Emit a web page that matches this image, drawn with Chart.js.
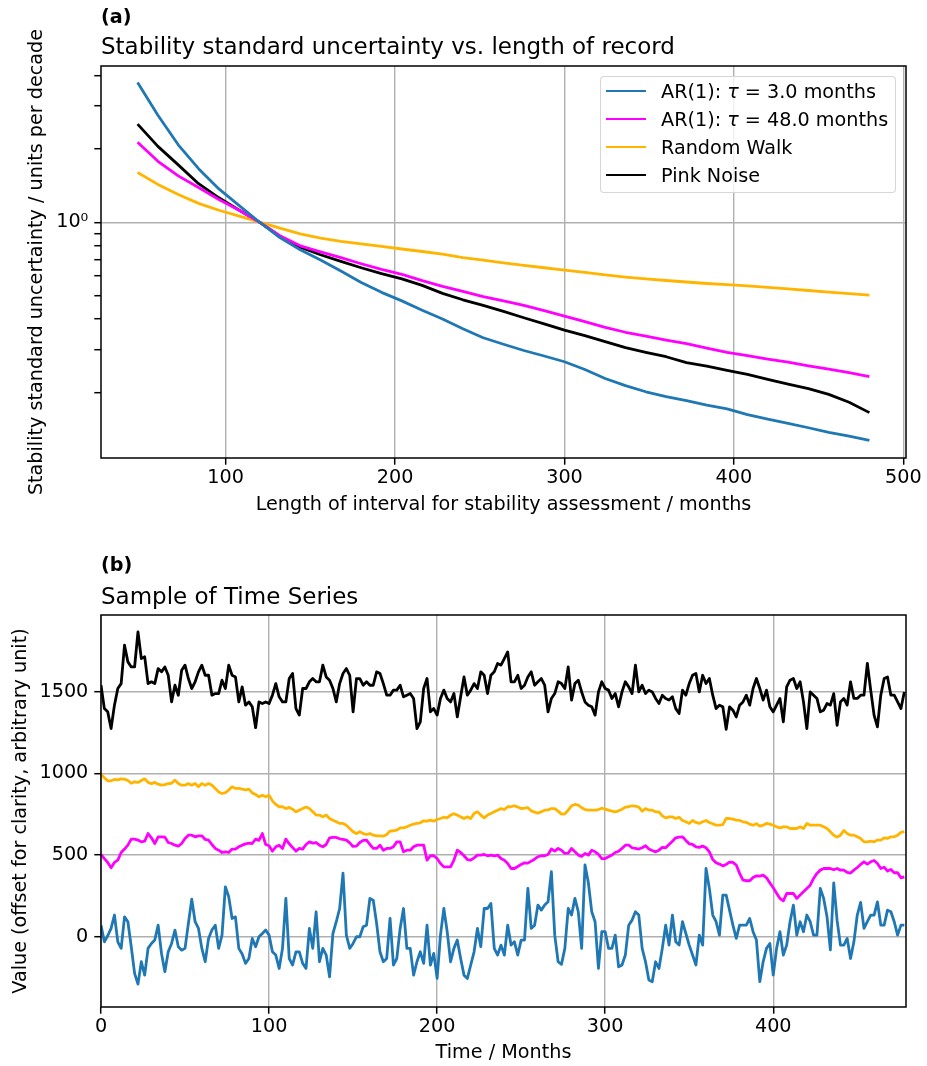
<!DOCTYPE html>
<html>
<head>
<meta charset="utf-8">
<script src="https://cdn.jsdelivr.net/npm/chart.js@4.4.1/dist/chart.umd.min.js"></script>
<style>
  body { margin: 0; background: #fff; }
  #wrap { position: relative; width: 927px; height: 1066px; font-family: "DejaVu Sans", sans-serif; color: #000; overflow: hidden; }
  canvas { position: absolute; left: 0; }
  .t { position: absolute; white-space: nowrap; color: #000; }
</style>
</head>
<body>
<div id="wrap">
  <canvas id="ca" width="927" height="525" style="top:0px"></canvas>
  <canvas id="cb" width="927" height="541" style="top:525px"></canvas>
  <div class="t" style="left:101px;top:5px;font-size:19.2px;line-height:23px;font-weight:bold;">(a)</div>
  <div class="t" style="left:101px;top:32px;font-size:23px;line-height:28px;">Stability standard uncertainty vs. length of record</div>
  <div class="t" style="left:101px;top:553px;font-size:19.2px;line-height:23px;font-weight:bold;">(b)</div>
  <div class="t" style="left:101px;top:582px;font-size:23px;line-height:28px;">Sample of Time Series</div>
  <div id="legend"></div>
</div>
<script>
// ---------- Panel (a): stability uncertainty vs record length ----------
const lengths = [48,60,72,84,96,108,120,132,144,156,168,180,192,204,216,228,240,252,264,276,288,300,312,324,336,348,360,372,384,396,408,420,432,444,456,468,480];
const ar3Unc = [3.75,2.75,2.08,1.66,1.37,1.17,1.0,0.865,0.77,0.70,0.63,0.565,0.515,0.475,0.435,0.40,0.365,0.335,0.315,0.297,0.282,0.267,0.248,0.228,0.213,0.201,0.192,0.185,0.177,0.171,0.162,0.155,0.149,0.143,0.137,0.132,0.127];
const ar48Unc = [2.13,1.78,1.55,1.39,1.24,1.12,1.0,0.88,0.80,0.755,0.715,0.675,0.64,0.61,0.575,0.545,0.52,0.495,0.475,0.455,0.433,0.411,0.39,0.37,0.353,0.34,0.328,0.317,0.304,0.292,0.283,0.274,0.266,0.257,0.249,0.241,0.232];
const rwUnc = [1.60,1.43,1.30,1.195,1.12,1.06,1.0,0.945,0.895,0.86,0.835,0.815,0.795,0.776,0.758,0.74,0.715,0.698,0.68,0.665,0.65,0.636,0.622,0.607,0.595,0.585,0.576,0.568,0.56,0.554,0.547,0.54,0.532,0.524,0.516,0.509,0.502];
const pinkUnc = [2.53,2.05,1.72,1.44,1.26,1.12,1.0,0.875,0.79,0.735,0.69,0.65,0.615,0.585,0.55,0.51,0.48,0.455,0.43,0.405,0.382,0.36,0.342,0.323,0.305,0.292,0.28,0.265,0.256,0.246,0.237,0.226,0.216,0.207,0.196,0.182,0.165];
const topXTicks = [100,200,300,400,500];
const topYTicks = [0.2,0.3,0.4,0.5,0.6,0.7,0.8,0.9,1,2,3,4];

// ---------- Panel (b): sample time series ----------
const months = [0,2,4,6,8,10,12,14,16,18,20,22,24,26,28,30,32,34,36,38,40,42,44,46,48,50,52,54,56,58,60,62,64,66,68,70,72,74,76,78,
80,82,84,86,88,90,92,94,96,98,100,102,104,106,108,110,112,114,116,118,120,122,124,126,128,130,132,134,136,138,140,142,144,146,148,150,152,154,156,158,
160,162,164,166,168,170,172,174,176,178,180,182,184,186,188,190,192,194,196,198,200,202,204,206,208,210,212,214,216,218,220,222,224,226,228,230,232,234,236,238,
240,242,244,246,248,250,252,254,256,258,260,262,264,266,268,270,272,274,276,278,280,282,284,286,288,290,292,294,296,298,300,302,304,306,308,310,312,314,316,318,
320,322,324,326,328,330,332,334,336,338,340,342,344,346,348,350,352,354,356,358,360,362,364,366,368,370,372,374,376,378,380,382,384,386,388,390,392,394,396,398,
400,402,404,406,408,410,412,414,416,418,420,422,424,426,428,430,432,434,436,438,440,442,444,446,448,450,452,454,456,458,460,462,464,466,468,470,472,474,476,478];
const ar3Series = [71,-31,6,51,133,-31,-71,122,92,-61,-224,-290,-153,-235,-71,-41,-20,71,-102,-214,-92,-41,41,-61,-82,-71,82,230,92,51,-71,-153,-10,41,71,-71,10,306,245,112,
122,-71,-106,-163,-133,-10,-61,0,20,41,10,-92,-112,-194,-71,235,-133,-173,-92,-92,-163,-194,51,-71,153,-153,-71,-112,-245,20,92,173,390,10,-71,-41,0,0,61,71,
235,224,82,-92,-153,-133,112,-173,-133,51,173,-71,-71,-235,-153,-92,-163,71,-173,-102,-255,10,173,31,-153,-71,-20,-133,-235,-255,-173,-92,51,-61,173,173,204,-71,-112,-51,
-112,71,-51,-31,-112,-20,-20,296,51,71,194,163,194,214,398,10,-153,-169,-71,173,133,235,153,-71,440,330,153,92,-194,31,31,-71,-71,10,-184,-173,-112,71,102,153,
133,-71,-153,-265,-275,-153,-194,-71,71,-51,133,-31,-51,92,20,-51,-112,-173,10,-51,418,296,133,92,10,255,255,163,71,-10,71,71,71,112,31,-20,-275,-153,-71,-41,
-235,-71,31,-112,-51,92,194,10,92,31,133,92,10,10,296,235,122,-80,330,100,-51,-51,-10,-133,-31,133,210,51,92,133,133,214,71,71,163,153,92,10,71,71];
const ar48Series = [504,479,455,422,455,469,516,537,561,598,598,592,581,585,632,606,571,612,612,610,577,571,561,555,571,602,622,622,612,618,618,596,592,565,541,530,516,520,516,537,
537,551,561,569,573,571,598,590,632,565,557,524,551,561,541,598,569,547,524,541,537,565,581,573,577,561,551,565,606,608,608,600,596,592,575,553,555,577,590,592,
565,541,541,561,530,541,541,551,581,581,520,530,530,551,561,561,561,469,496,496,479,449,428,428,428,469,530,516,496,473,469,483,500,500,504,496,500,496,500,479,
469,449,418,418,430,443,453,451,463,475,490,496,496,504,537,524,541,530,510,512,541,520,500,492,510,500,530,520,504,479,479,490,500,516,524,541,561,561,545,541,
537,545,557,537,528,520,530,547,545,565,585,606,610,612,590,569,565,551,547,555,545,520,473,453,445,434,443,457,455,439,388,347,343,343,363,373,371,377,361,330,
300,267,235,220,265,265,265,235,255,275,296,316,357,388,408,418,418,418,410,418,408,408,394,390,408,424,443,459,445,459,467,449,418,426,402,412,392,392,361,367];
const rwSeries = [996,973,955,955,963,961,967,965,957,940,949,945,957,967,945,938,945,934,928,932,938,940,959,938,928,928,938,928,938,918,938,928,938,928,908,887,877,883,898,918,
908,908,904,900,904,881,871,857,867,857,867,832,810,796,796,785,792,781,765,775,785,794,785,765,745,745,734,745,724,714,704,694,694,683,663,643,632,643,632,626,
632,622,618,618,616,626,647,649,653,667,667,673,683,690,694,698,710,708,714,708,718,724,732,728,745,753,745,734,724,734,724,755,765,745,728,745,755,765,775,785,
779,796,796,802,794,785,787,790,771,763,757,765,775,777,785,785,769,751,753,775,802,810,806,790,779,775,775,775,779,787,781,775,769,765,771,781,794,796,802,800,
794,769,785,775,775,765,765,740,728,734,734,724,732,712,704,694,712,700,694,704,712,700,692,683,683,687,724,724,720,714,712,704,700,690,683,692,677,683,694,690,
683,673,667,673,673,663,663,663,673,663,694,683,683,683,683,673,663,643,622,610,622,651,632,622,622,612,602,581,581,585,581,592,592,606,602,612,612,622,639,643];
const pinkSeries = [1540,1397,1377,1275,1418,1520,1550,1785,1683,1652,1652,1867,1703,1714,1550,1561,1550,1642,1622,1652,1601,1438,1540,1479,1632,1663,1581,1520,1561,1622,1663,1601,1601,1479,1489,1489,1571,1520,1663,1601,
1591,1438,1530,1418,1438,1408,1280,1438,1428,1438,1428,1479,1550,1469,1438,1438,1581,1612,1397,1357,1520,1520,1561,1581,1561,1561,1663,1591,1571,1520,1438,1550,1612,1642,1601,1377,1581,1581,1540,1561,
1540,1540,1622,1612,1550,1479,1479,1510,1510,1540,1469,1479,1489,1459,1275,1316,1520,1581,1377,1397,1357,1459,1510,1459,1438,1489,1346,1469,1591,1479,1510,1550,1520,1622,1601,1489,1601,1622,1673,1663,
1703,1744,1561,1561,1601,1520,1540,1591,1622,1540,1561,1581,1540,1377,1459,1489,1561,1550,1520,1652,1449,1550,1571,1499,1438,1418,1408,1357,1499,1561,1520,1510,1459,1489,1408,1499,1561,1530,1489,1663,
1499,1540,1489,1510,1499,1459,1428,1479,1459,1449,1469,1397,1367,1510,1479,1550,1601,1612,1499,1601,1550,1581,1479,1397,1418,1408,1270,1408,1387,1346,1418,1438,1479,1418,1520,1581,1520,1449,1510,1408,
1377,1418,1459,1316,1530,1571,1581,1520,1561,1438,1275,1499,1479,1459,1377,1387,1428,1418,1489,1295,1438,1459,1418,1561,1459,1459,1479,1479,1673,1510,1357,1285,1479,1581,1591,1479,1479,1438,1397,1499];
const bottomXTicks = [0,100,200,300,400];
const bottomYTicks = [0,500,1000,1500];

const seriesNames = ['AR(1): τ = 3.0 months','AR(1): τ = 48.0 months','Random Walk','Pink Noise'];
const seriesColors = ['#1f77b4','#ff00ff','#ffb400','#000000'];

// ---------- helpers ----------
const FONT = { family: '"DejaVu Sans", sans-serif', size: 19.2 };
Chart.defaults.font.family = FONT.family;
Chart.defaults.color = '#000';

const frame = {
  id: 'frame',
  afterDatasetsDraw(chart) {
    const a = chart.chartArea, c = chart.ctx;
    c.save();
    c.strokeStyle = '#000';
    c.lineWidth = 1.5;
    c.strokeRect(a.left, a.top, a.right - a.left, a.bottom - a.top);
    c.restore();
  }
};

function lineDS(label, color, xs, ys) {
  return {
    label, borderColor: color, backgroundColor: color,
    data: xs.map((x, i) => ({ x, y: ys[i] })),
    borderWidth: 2.8, pointRadius: 0, tension: 0, fill: false,
    borderJoinStyle: 'round'
  };
}

const gridBase = { lineWidth: 1.4, tickLength: 6.7, tickColor: '#000', tickWidth: 1.5 };

// ---------- Chart (a) ----------
new Chart(document.getElementById('ca'), {
  type: 'line',
  data: {
    datasets: [
      lineDS(seriesNames[0], seriesColors[0], lengths, ar3Unc),
      lineDS(seriesNames[1], seriesColors[1], lengths, ar48Unc),
      lineDS(seriesNames[2], seriesColors[2], lengths, rwUnc),
      lineDS(seriesNames[3], seriesColors[3], lengths, pinkUnc)
    ]
  },
  options: {
    responsive: false, animation: false, devicePixelRatio: 1,
    layout: { padding: { top: 66, right: 21, bottom: 0, left: 0 } },
    plugins: { legend: { display: false }, tooltip: { enabled: false } },
    scales: {
      x: {
        type: 'linear', min: 26.4, max: 501.6,
        afterBuildTicks: s => { s.ticks = topXTicks.map(v => ({ value: v })); },
        afterFit: s => { s.height = 67; },
        ticks: { font: FONT, color: '#000', padding: 2, maxRotation: 0, autoSkip: false, callback: v => String(v) },
        grid: Object.assign({ color: '#b0b0b0' }, gridBase),
        border: { display: false },
        title: { display: true, text: 'Length of interval for stability assessment / months', font: FONT, color: '#000', padding: { top: 0, bottom: 8 } }
      },
      y: {
        type: 'logarithmic', min: 0.1074, max: 4.385,
        afterBuildTicks: s => { s.ticks = topYTicks.map(v => ({ value: v })); },
        afterFit: s => { s.width = 101; },
        ticks: { font: FONT, color: '#000', padding: 6, autoSkip: false, callback: v => (v === 1 ? '10⁰' : '') },
        grid: Object.assign({ color: ctx => (ctx.tick && ctx.tick.value === 1 ? '#b0b0b0' : 'rgba(0,0,0,0)') }, gridBase),
        border: { display: false },
        title: { display: true, text: 'Stability standard uncertainty / units per decade', font: FONT, color: '#000', padding: { top: 25, bottom: 0 } }
      }
    }
  },
  plugins: [frame]
});

// ---------- Chart (b) ----------
new Chart(document.getElementById('cb'), {
  type: 'line',
  data: {
    datasets: [
      lineDS(seriesNames[0], seriesColors[0], months, ar3Series),
      lineDS(seriesNames[1], seriesColors[1], months, ar48Series),
      lineDS(seriesNames[2], seriesColors[2], months, rwSeries),
      lineDS(seriesNames[3], seriesColors[3], months, pinkSeries)
    ]
  },
  options: {
    responsive: false, animation: false, devicePixelRatio: 1,
    layout: { padding: { top: 90, right: 21, bottom: 0, left: 0 } },
    plugins: { legend: { display: false }, tooltip: { enabled: false } },
    scales: {
      x: {
        type: 'linear', min: 0, max: 479,
        afterBuildTicks: s => { s.ticks = bottomXTicks.map(v => ({ value: v })); },
        afterFit: s => { s.height = 59; },
        ticks: { font: FONT, color: '#000', padding: 2, maxRotation: 0, autoSkip: false, callback: v => String(v) },
        grid: Object.assign({ color: '#b0b0b0' }, gridBase),
        border: { display: false },
        title: { display: true, text: 'Time / Months', font: FONT, color: '#000', padding: { top: 0, bottom: 1 } }
      },
      y: {
        type: 'linear', min: -430, max: 1970,
        afterBuildTicks: s => { s.ticks = bottomYTicks.map(v => ({ value: v })); },
        afterFit: s => { s.width = 101; },
        ticks: { font: FONT, color: '#000', padding: 6, autoSkip: false, callback: v => String(v) },
        grid: Object.assign({ color: '#b0b0b0' }, gridBase),
        border: { display: false },
        title: { display: true, text: 'Value (offset for clarity, arbitrary unit)', font: FONT, color: '#000', padding: { top: 9, bottom: 0 } }
      }
    }
  },
  plugins: [frame]
});

// ---------- Legend for panel (a) ----------
(function () {
  const wrap = document.getElementById('wrap');
  const box = document.getElementById('legend');
  Object.assign(box.style, {
    position: 'absolute', left: '600px', top: '76px', width: '296px', height: '117px',
    boxSizing: 'border-box', border: '1.3px solid rgba(204,204,204,0.8)', borderRadius: '4px',
    background: 'rgba(255,255,255,0.8)'
  });
  seriesNames.forEach((name, i) => {
    const cy = 91 + 28 * i;
    const ln = document.createElement('div');
    Object.assign(ln.style, { position: 'absolute', left: '606px', top: (cy - 1.4) + 'px', width: '40px', height: '2.8px', background: seriesColors[i] });
    wrap.appendChild(ln);
    const tx = document.createElement('div');
    tx.className = 't';
    Object.assign(tx.style, { left: '661px', top: (cy - 11.5) + 'px', fontSize: '19.2px', lineHeight: '23px' });
    tx.innerHTML = name.replace('τ', '<i>τ</i>');
    wrap.appendChild(tx);
  });
})();
</script>
</body>
</html>
